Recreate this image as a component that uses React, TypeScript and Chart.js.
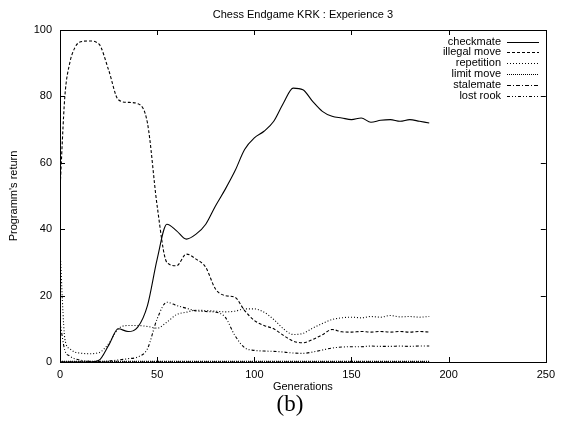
import React, { useEffect, useRef } from "react";
import { Chart, registerables } from "chart.js";

Chart.register(...registerables);

const TITLE = "Chess Endgame KRK : Experience 3";
const X_TITLE = "Generations";
const Y_TITLE = "Programm's return";
const X_TICKS = [0, 50, 100, 150, 200, 250];
const Y_TICKS = [0, 20, 40, 60, 80, 100];

const generations = [0, 2.5, 5, 7.5, 10, 15, 20, 25, 30, 35, 40, 45, 50, 55, 60, 65, 70, 75, 80, 85, 90, 95, 100, 105, 110, 115, 120, 125, 130, 135, 140, 145, 150, 155, 160, 165, 170, 175, 180, 185, 190];

const checkmate = [0, 0, 0, 0, 0, 0, 0.5, 5, 10, 9.2, 10.5, 17, 31, 41.5, 39.5, 37, 38.5, 41.5, 47, 52, 57.5, 64, 67.5, 69.5, 72.5, 78, 82.5, 82, 78.5, 75.5, 74, 73.5, 73, 73.5, 72.2, 72.8, 73, 72.5, 73, 72.5, 72];
const illegalMove = [52, 80, 90, 94.5, 96.3, 96.7, 95.8, 88, 79, 78.2, 77.8, 72, 47, 30, 29, 32.5, 31, 28.5, 22, 20, 19.5, 15.5, 12.5, 11, 10, 8, 6.3, 5.8, 6.8, 8.2, 9.8, 9.1, 9, 9.2, 9, 9.2, 9, 9.2, 9, 9.2, 9];
const repetition = [34, 7, 4, 3, 2.7, 2.5, 2.8, 5.5, 10, 11, 11, 10.7, 10.2, 12, 14.3, 15, 15.6, 15.5, 15.3, 15.1, 15.3, 16, 16, 15, 12.8, 10, 8.3, 8.6, 10.2, 11.6, 12.8, 13.3, 13.5, 13.3, 13.7, 13.5, 14, 13.6, 13.7, 13.5, 13.7];
const limitMove = [0.2, 0.2, 0.2, 0.2, 0.2, 0.2, 0.2, 0.2, 0.2, 0.2, 0.2, 0.2, 0.2, 0.2, 0.2, 0.2, 0.2, 0.2, 0.2, 0.2, 0.2, 0.2, 0.2, 0.2, 0.2, 0.2, 0.2, 0.2, 0.2, 0.2, 0.2, 0.2, 0.2, 0.2, 0.2, 0.2, 0.2, 0.2, 0.2, 0.2, 0.2];
const stalemate = [0, 0, 0, 0, 0, 0, 0, 0, 0, 0, 0, 0, 0, 0, 0, 0, 0, 0, 0, 0, 0, 0, 0, 0, 0, 0, 0, 0, 0, 0, 0, 0, 0, 0, 0, 0, 0, 0, 0, 0, 0];
const lostRook = [12, 3.5, 1.8, 1, 0.6, 0.2, 0.1, 0.3, 0.6, 1, 1.5, 4, 13, 18, 17, 16.2, 15.4, 15.2, 15, 13.5, 8, 4.3, 3.5, 3.3, 3.2, 3, 2.7, 2.6, 3, 3.6, 4.2, 4.5, 4.6, 4.6, 4.8, 4.7, 4.7, 4.8, 4.7, 4.8, 4.8];

const SERIES = [
  { label: "checkmate", data: checkmate, dash: [] as number[] },
  { label: "illegal move", data: illegalMove, dash: [3, 2] },
  { label: "repetition", data: repetition, dash: [1, 2] },
  { label: "limit move", data: limitMove, dash: [1, 1] },
  { label: "stalemate", data: stalemate, dash: [4, 2, 1, 2] },
  { label: "lost rook", data: lostRook, dash: [3, 2, 1, 2, 1, 2] },
];

const FONT = "11px 'Liberation Sans', Arial, sans-serif";

const decorPlugin = {
  id: "decor",
  afterDraw(chart: any) {
    const ctx = chart.ctx as CanvasRenderingContext2D;
    const { left, right, top, bottom } = chart.chartArea;
    const xs = chart.scales.x;
    const ys = chart.scales.y;
    ctx.save();
    ctx.strokeStyle = "#000";
    ctx.lineWidth = 1;
    ctx.setLineDash([]);
    ctx.strokeRect(Math.round(left) + 0.5, Math.round(top) + 0.5, Math.round(right - left), Math.round(bottom - top));
    const tl = 5;
    ctx.beginPath();
    for (const v of X_TICKS) {
      const px = Math.round(xs.getPixelForValue(v)) + 0.5;
      ctx.moveTo(px, bottom);
      ctx.lineTo(px, bottom - tl);
      ctx.moveTo(px, top);
      ctx.lineTo(px, top + tl);
    }
    for (const v of Y_TICKS) {
      const py = Math.round(ys.getPixelForValue(v)) + 0.5;
      ctx.moveTo(left, py);
      ctx.lineTo(left + tl, py);
      ctx.moveTo(right, py);
      ctx.lineTo(right - tl, py);
    }
    ctx.stroke();

    ctx.fillStyle = "#000";
    ctx.font = FONT;
    ctx.textAlign = "center";
    ctx.textBaseline = "middle";
    const cx = (left + right) / 2;
    ctx.fillText(TITLE, cx, 15);
    ctx.fillText(X_TITLE, cx, 387);
    ctx.save();
    ctx.translate(14, (top + bottom) / 2);
    ctx.rotate(-Math.PI / 2);
    ctx.fillText(Y_TITLE, 0, 0);
    ctx.restore();

    // legend
    ctx.textAlign = "right";
    SERIES.forEach((s, i) => {
      const y = 41.5 + i * 10.8;
      ctx.fillText(s.label, 501, y);
      ctx.beginPath();
      ctx.setLineDash(s.dash);
      ctx.moveTo(507, Math.round(y) + 0.5);
      ctx.lineTo(539, Math.round(y) + 0.5);
      ctx.stroke();
    });
    ctx.restore();
  },
};

export default function App() {
  const ref = useRef<HTMLCanvasElement>(null);
  useEffect(() => {
    if (!ref.current) return;
    const chart = new Chart(ref.current, {
      type: "line",
      data: {
        datasets: SERIES.map((s) => ({
          label: s.label,
          data: generations.map((g, i) => ({ x: g, y: s.data[i] })),
          borderColor: "#000",
          borderWidth: 1.1,
          borderDash: s.dash,
          pointRadius: 0,
          fill: false,
          cubicInterpolationMode: "monotone" as const,
        })),
      },
      options: {
        responsive: false,
        animation: false,
        layout: { padding: { top: 30, right: 8, left: 0, bottom: 0 } },
        plugins: { legend: { display: false }, title: { display: false }, tooltip: { enabled: false } },
        scales: {
          x: {
            type: "linear",
            min: 0,
            max: 250,
            afterBuildTicks: (s: any) => { s.ticks = X_TICKS.map((v) => ({ value: v })); },
            afterFit: (s: any) => { s.height = 70; },
            grid: { display: false, drawTicks: false },
            border: { display: false },
            ticks: { color: "#000", font: { family: "'Liberation Sans', Arial, sans-serif", size: 11 }, padding: 6, maxRotation: 0 },
          },
          y: {
            type: "linear",
            min: 0,
            max: 100,
            afterBuildTicks: (s: any) => { s.ticks = Y_TICKS.map((v) => ({ value: v })); },
            afterFit: (s: any) => { s.width = 60; },
            grid: { display: false, drawTicks: false },
            border: { display: false },
            ticks: { color: "#000", font: { family: "'Liberation Sans', Arial, sans-serif", size: 11 }, padding: 8 },
          },
        },
      },
      plugins: [decorPlugin],
    });
    return () => chart.destroy();
  }, []);
  return (
    <div style={{ position: "fixed", left: 0, top: 0, width: 561, height: 432, background: "#fff" }}>
      <canvas ref={ref} width={561} height={432} style={{ display: "block" }} />
      <div
        style={{
          position: "absolute",
          left: 0,
          width: 580,
          top: 390,
          textAlign: "center",
          fontFamily: "'Liberation Serif', 'DejaVu Serif', serif",
          fontSize: 23,
          lineHeight: "28px",
        }}
      >
        (b)
      </div>
    </div>
  );
}
